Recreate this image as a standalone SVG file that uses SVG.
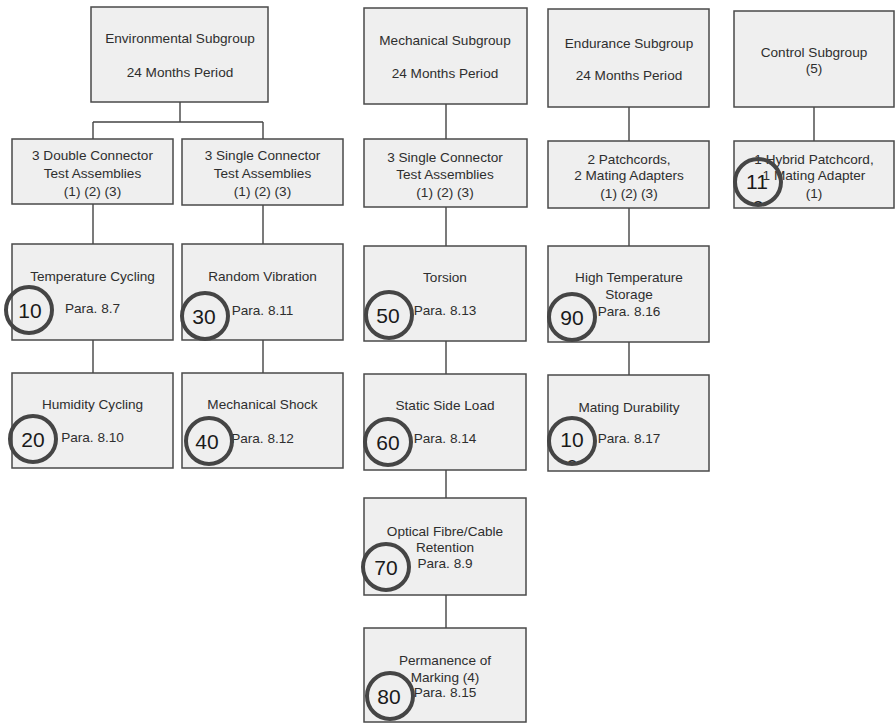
<svg xmlns="http://www.w3.org/2000/svg" width="896" height="724" viewBox="0 0 896 724">
<style>
.box{fill:#efefef;stroke:#4a4a4a;stroke-width:1.5}
.t{font-family:"Liberation Sans",Arial,sans-serif;font-size:13.6px;fill:#2e2e2e;text-anchor:middle}
.c{fill:none;stroke:#454545;stroke-width:4}
.n{font-family:"Liberation Sans",Arial,sans-serif;font-size:21px;fill:#1a1a1a;text-anchor:middle}
.ln{fill:none;stroke:#444;stroke-width:1.4}
</style>
<defs>
<clipPath id="clip11"><circle cx="758" cy="182" r="21"/></clipPath>
<clipPath id="clip100"><circle cx="572" cy="441" r="21"/></clipPath>
</defs>
<rect width="896" height="724" fill="#ffffff"/>
<g id="connectors">
<path class="ln" d="M180,102V122M93,122H263M93,122V139M263,122V139"/>
<path class="ln" d="M93,204V244M93,340V373"/>
<path class="ln" d="M263,205V244M263,340V373"/>
<path class="ln" d="M446,104V139M446,207V246M446,341V374M446,470V498M446,595V628"/>
<path class="ln" d="M629,107V141M629,208V246M629,342V375"/>
<path class="ln" d="M814,107V141"/>
</g>
<g id="env-top">
<rect class="box" x="91" y="7" width="177" height="95"/>
<text class="t" x="180" y="43">Environmental Subgroup</text>
<text class="t" x="180" y="77">24 Months Period</text>
</g>
<g id="mech-top">
<rect class="box" x="364" y="8" width="163" height="96"/>
<text class="t" x="445" y="45">Mechanical Subgroup</text>
<text class="t" x="445" y="78">24 Months Period</text>
</g>
<g id="end-top">
<rect class="box" x="548" y="9" width="161" height="98"/>
<text class="t" x="629" y="48">Endurance Subgroup</text>
<text class="t" x="629" y="80">24 Months Period</text>
</g>
<g id="ctrl-top">
<rect class="box" x="734" y="11" width="160" height="96"/>
<text class="t" x="814" y="57">Control Subgroup</text>
<text class="t" x="814" y="73">(5)</text>
</g>
<g id="env-double">
<rect class="box" x="12" y="139" width="161" height="65"/>
<text class="t" x="92.5" y="160">3 Double Connector</text>
<text class="t" x="92.5" y="178">Test Assemblies</text>
<text class="t" x="92.5" y="196">(1) (2) (3)</text>
</g>
<g id="env-single">
<rect class="box" x="182" y="139" width="161" height="66"/>
<text class="t" x="262.5" y="160">3 Single Connector</text>
<text class="t" x="262.5" y="178">Test Assemblies</text>
<text class="t" x="262.5" y="196">(1) (2) (3)</text>
</g>
<g id="mech-single">
<rect class="box" x="364" y="139" width="163" height="68"/>
<text class="t" x="445" y="162">3 Single Connector</text>
<text class="t" x="445" y="179">Test Assemblies</text>
<text class="t" x="445" y="197">(1) (2) (3)</text>
</g>
<g id="end-patch">
<rect class="box" x="548" y="141" width="161" height="67"/>
<text class="t" x="629" y="164">2 Patchcords,</text>
<text class="t" x="629" y="180">2 Mating Adapters</text>
<text class="t" x="629" y="198">(1) (2) (3)</text>
</g>
<g id="ctrl-hybrid">
<rect class="box" x="734" y="141" width="160" height="67"/>
<text class="t" x="814" y="164">1 Hybrid Patchcord,</text>
<text class="t" x="814" y="180">1 Mating Adapter</text>
<text class="t" x="814" y="198">(1)</text>
<circle class="c" cx="758" cy="182" r="23"/>
<text class="n" x="757" y="189">11</text>
<text class="n" x="758" y="214.5" clip-path="url(#clip11)">0</text>
</g>
<g id="temp-cycling">
<rect class="box" x="12" y="244" width="161" height="96"/>
<text class="t" x="92.5" y="281">Temperature Cycling</text>
<text class="t" x="92.5" y="313">Para. 8.7</text>
<circle class="c" cx="29" cy="310" r="23"/>
<text class="n" x="30" y="318">10</text>
</g>
<g id="random-vibration">
<rect class="box" x="182" y="244" width="161" height="96"/>
<text class="t" x="262.5" y="281">Random Vibration</text>
<text class="t" x="262.5" y="315">Para. 8.11</text>
<circle class="c" cx="205" cy="316" r="23"/>
<text class="n" x="204" y="324">30</text>
</g>
<g id="torsion">
<rect class="box" x="364" y="246" width="162" height="95"/>
<text class="t" x="445" y="282">Torsion</text>
<text class="t" x="445" y="315">Para. 8.13</text>
<circle class="c" cx="389" cy="315" r="23"/>
<text class="n" x="388" y="323">50</text>
</g>
<g id="high-temp">
<rect class="box" x="548" y="246" width="161" height="96"/>
<text class="t" x="629" y="282">High Temperature</text>
<text class="t" x="629" y="299">Storage</text>
<text class="t" x="629" y="316">Para. 8.16</text>
<circle class="c" cx="572" cy="317" r="23"/>
<text class="n" x="572" y="325">90</text>
</g>
<g id="humidity">
<rect class="box" x="12" y="373" width="161" height="95"/>
<text class="t" x="92.5" y="409">Humidity Cycling</text>
<text class="t" x="92.5" y="442">Para. 8.10</text>
<circle class="c" cx="33" cy="439" r="23"/>
<text class="n" x="33" y="447">20</text>
</g>
<g id="mech-shock">
<rect class="box" x="182" y="373" width="161" height="95"/>
<text class="t" x="262.5" y="409">Mechanical Shock</text>
<text class="t" x="262.5" y="443">Para. 8.12</text>
<circle class="c" cx="209" cy="441" r="23"/>
<text class="n" x="207" y="449">40</text>
</g>
<g id="static-side">
<rect class="box" x="364" y="374" width="162" height="96"/>
<text class="t" x="445" y="410">Static Side Load</text>
<text class="t" x="445" y="443">Para. 8.14</text>
<circle class="c" cx="388" cy="442" r="23"/>
<text class="n" x="388" y="450">60</text>
</g>
<g id="mating-durability">
<rect class="box" x="548" y="375" width="161" height="96"/>
<text class="t" x="629" y="412">Mating Durability</text>
<text class="t" x="629" y="443">Para. 8.17</text>
<circle class="c" cx="572" cy="441" r="23"/>
<text class="n" x="572" y="447">10</text>
<text class="n" x="572" y="473.5" clip-path="url(#clip100)">0</text>
</g>
<g id="optical-retention">
<rect class="box" x="364" y="498" width="162" height="97"/>
<text class="t" x="445" y="536">Optical Fibre/Cable</text>
<text class="t" x="445" y="552">Retention</text>
<text class="t" x="445" y="568">Para. 8.9</text>
<circle class="c" cx="386" cy="567" r="23"/>
<text class="n" x="386" y="575">70</text>
</g>
<g id="permanence">
<rect class="box" x="364" y="628" width="162" height="94"/>
<text class="t" x="445" y="665">Permanence of</text>
<text class="t" x="445" y="682">Marking (4)</text>
<text class="t" x="445" y="697">Para. 8.15</text>
<circle class="c" cx="390" cy="696" r="23"/>
<text class="n" x="389" y="704">80</text>
</g>
</svg>
